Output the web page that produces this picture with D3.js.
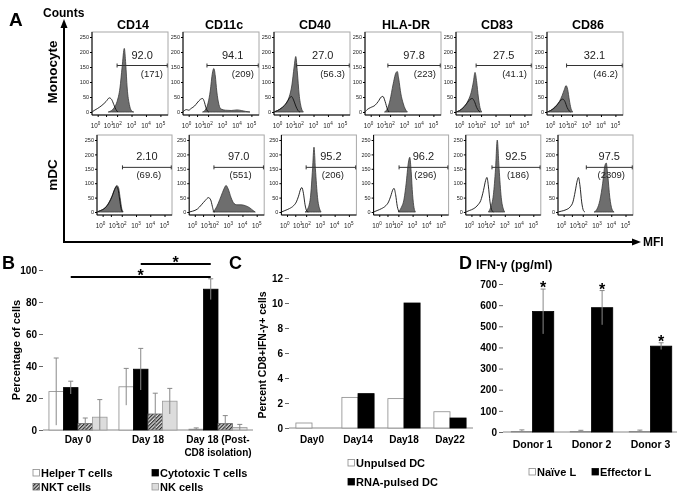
<!DOCTYPE html>
<html>
<head>
<meta charset="utf-8">
<script src="https://cdn.jsdelivr.net/npm/d3@7"></script>
<style>
body { margin: 0; background: #fff; }
svg { will-change: transform; }
text { font-family: "Liberation Sans", Arial, sans-serif; }
</style>
</head>
<body>
<script>
// ---- panel A : flow histograms ----
var markers = ["CD14", "CD11c", "CD40", "HLA-DR", "CD83", "CD86"];
var cellTypes = ["Monocyte", "mDC"];
var gatePercent = [["92.0", "94.1", "27.0", "97.8", "27.5", "32.1"],
                   ["2.10", "97.0", "95.2", "96.2", "92.5", "97.5"]];
var gateMFI = [["(171)", "(209)", "(56.3)", "(223)", "(41.1)", "(46.2)"],
               ["(69.6)", "(551)", "(206)", "(296)", "(186)", "(2309)"]];
var gateStart = [[2.0, 1.9, 1.75, 1.8, 1.55, 1.5],
                 [2.05, 2.0, 2.0, 2.05, 2.1, 2.25]];
var gateLevel = 155;
var logTicks = [0, 1, 2, 3, 4, 5];
var countTicks = [0, 50, 100, 150, 200, 250];

// [log10 intensity, count]
var histFilled = [
  [
    [[1.2,0],[1.5,5],[1.8,18],[2.0,35],[2.2,80],[2.35,150],[2.5,212],[2.6,160],[2.7,80],[2.85,25],[3.0,4],[3.15,0]],
    [[1.5,0],[1.8,10],[2.0,30],[2.15,70],[2.3,130],[2.4,145],[2.5,120],[2.6,70],[2.75,25],[2.9,10],[3.2,6],[3.6,5],[4.0,7],[4.3,5],[4.6,2],[4.9,0]],
    [[-0.8,0],[-0.3,5],[0.3,15],[0.8,30],[1.1,50],[1.35,90],[1.55,150],[1.7,185],[1.85,130],[2.0,60],[2.15,15],[2.3,0]],
    [[1.5,0],[1.8,15],[2.0,40],[2.2,90],[2.4,130],[2.5,135],[2.6,110],[2.75,60],[2.9,30],[3.05,10],[3.2,0]],
    [[-0.8,0],[-0.3,5],[0.3,18],[0.8,40],[1.1,65],[1.3,100],[1.45,132],[1.6,100],[1.75,50],[1.9,15],[2.05,0]],
    [[-0.8,0],[-0.3,5],[0.3,18],[0.8,35],[1.1,55],[1.3,75],[1.45,88],[1.6,75],[1.75,40],[1.9,12],[2.05,0]]
  ],
  [
    [[-0.8,0],[-0.3,5],[0.3,15],[0.8,35],[1.1,55],[1.35,80],[1.55,92],[1.7,85],[1.85,50],[2.0,12],[2.1,0]],
    [[1.9,0],[2.1,10],[2.3,30],[2.5,55],[2.7,80],[2.85,92],[3.0,80],[3.2,50],[3.4,30],[3.6,25],[3.9,25],[4.2,22],[4.5,15],[4.75,5],[4.9,0]],
    [[1.9,0],[2.1,10],[2.3,50],[2.45,150],[2.55,225],[2.65,150],[2.8,50],[2.95,10],[3.05,0]],
    [[2.0,0],[2.2,15],[2.4,45],[2.55,100],[2.7,170],[2.8,190],[2.9,140],[3.0,60],[3.1,15],[3.2,0]],
    [[1.8,0],[2.0,15],[2.2,60],[2.35,150],[2.47,250],[2.6,150],[2.75,50],[2.9,10],[3.0,0]],
    [[2.8,0],[3.0,10],[3.2,40],[3.4,100],[3.55,160],[3.65,170],[3.75,130],[3.9,50],[4.05,10],[4.2,0]]
  ]
];
var histOpen = [
  [
    [[-0.8,0],[-0.5,5],[0,12],[0.5,22],[1,35],[1.3,47],[1.5,42],[1.7,25],[1.9,8],[2.05,0]],
    [[-0.8,0],[-0.6,5],[-0.3,8],[0,6],[0.3,12],[0.7,20],[1.0,30],[1.3,42],[1.5,45],[1.65,35],[1.8,15],[1.95,3],[2.05,0]],
    [[-0.8,0],[-0.3,5],[0.3,15],[0.8,30],[1.1,45],[1.3,52],[1.5,40],[1.7,20],[1.9,5],[2.05,0]],
    [[-0.8,0],[-0.5,8],[0,15],[0.5,22],[0.9,35],[1.2,50],[1.35,52],[1.55,35],[1.75,10],[1.9,0]],
    [[-0.8,0],[-0.3,5],[0.3,18],[0.7,32],[1.0,42],[1.2,45],[1.4,35],[1.6,15],[1.8,3],[1.9,0]],
    [[-0.8,0],[-0.3,5],[0.3,16],[0.7,30],[1.0,40],[1.15,43],[1.35,35],[1.55,15],[1.75,3],[1.85,0]]
  ],
  [
    [[-0.8,0],[-0.3,5],[0.3,14],[0.8,33],[1.1,53],[1.35,78],[1.5,88],[1.65,80],[1.8,45],[1.95,10],[2.05,0]],
    [[-0.8,0],[-0.3,3],[0.3,10],[0.8,25],[1.2,40],[1.5,50],[1.7,42],[1.85,20],[1.95,5],[2.05,0]],
    [[-0.8,0],[-0.3,5],[0.3,12],[0.8,22],[1.1,35],[1.3,55],[1.5,80],[1.6,85],[1.75,65],[1.9,25],[2.05,3],[2.15,0]],
    [[-0.8,0],[-0.3,5],[0.3,12],[0.8,22],[1.1,35],[1.3,55],[1.5,78],[1.6,82],[1.75,60],[1.9,20],[2.05,0]],
    [[-0.8,0],[-0.3,5],[0.3,12],[0.8,25],[1.1,40],[1.35,75],[1.55,110],[1.67,120],[1.8,90],[1.95,35],[2.1,5],[2.2,0]],
    [[-0.8,0],[-0.3,3],[0.3,8],[0.8,18],[1.1,35],[1.3,70],[1.5,110],[1.6,120],[1.75,90],[1.9,35],[2.05,5],[2.15,0]]
  ]
];

// ---- panel B ----
var daysB = ["Day 0", "Day 18", "Day 18 (Post-CD8 isolation)"];
var dayLinesB = [["Day 0"], ["Day 18"], ["Day 18 (Post-", "CD8 isolation)"]];
var subsetsB = ["Helper T cells", "Cytotoxic T cells", "NKT cells", "NK cells"];
var helperB = [24, 27, 0.5],   helperErrB = [21, 11.5, 0.8];
var cytoB   = [26.5, 38, 88],  cytoErrB   = [4, 13, 6.5];
var nktB    = [4, 10, 4],      nktErrB    = [3.5, 13, 5];
var nkB     = [8, 18, 1.5],    nkErrB     = [11, 8, 2];
var ticksB = [0, 20, 40, 60, 80, 100];
var sigB = [["Day 0", "Day 18 (Post-CD8 isolation)", 95.6], ["Day 18", "Day 18 (Post-CD8 isolation)", 103.8]];

// ---- panel C ----
var daysC = ["Day0", "Day14", "Day18", "Day22"];
var groupsC = ["Unpulsed DC", "RNA-pulsed DC"];
var unpulsedC = [0.4, 2.45, 2.35, 1.3];
var pulsedC = [0, 2.75, 10.0, 0.8];
var ticksC = [0, 2, 4, 6, 8, 10, 12];

// ---- panel D ----
var donorsD = ["Donor 1", "Donor 2", "Donor 3"];
var groupsD = ["Naïve L", "Effector L"];
var naiveD = [2, 2, 2],         naiveErrD = [8, 6, 7];
var effectorD = [570, 588, 406], effectorErrD = [106, 81, 16];
var ticksD = [0, 100, 200, 300, 400, 500, 600, 700];

var SERIF = "'Liberation Serif', 'Times New Roman', serif";

var svg = d3.select("body").append("svg")
    .attr("width", 677)
    .attr("height", 496);

svg.append("rect").attr("width", 677).attr("height", 496).attr("fill", "#fff");

var defs = svg.append("defs");
var pat = defs.append("pattern")
    .attr("id", "hatch")
    .attr("patternUnits", "userSpaceOnUse")
    .attr("width", 2.6).attr("height", 2.6)
    .attr("patternTransform", "rotate(45)");
pat.append("rect").attr("width", 2.6).attr("height", 2.6).attr("fill", "#d8d8d8");
pat.append("line").attr("x1", 0.6).attr("y1", 0).attr("x2", 0.6).attr("y2", 2.6)
    .attr("stroke", "#2a2a2a").attr("stroke-width", 1.2);

// ================= A =================
svg.append("text").attr("x", 9).attr("y", 26)
    .attr("font-size", "19px").attr("font-weight", "bold").text("A");
svg.append("text").attr("x", 43).attr("y", 17)
    .attr("font-size", "12px").attr("font-weight", "bold").text("Counts");
svg.append("text").attr("x", 643).attr("y", 246)
    .attr("font-size", "12px").attr("font-weight", "bold").text("MFI");

// L shaped axes with arrows
svg.append("line").attr("x1", 64).attr("y1", 26).attr("x2", 64).attr("y2", 243)
    .attr("stroke", "#000").attr("stroke-width", 2);
svg.append("line").attr("x1", 63).attr("y1", 242).attr("x2", 634).attr("y2", 242)
    .attr("stroke", "#000").attr("stroke-width", 2);
svg.append("path").attr("d", "M64,19 L60.5,28 L67.5,28 Z").attr("fill", "#000");
svg.append("path").attr("d", "M641,242 L632,238.5 L632,245.5 Z").attr("fill", "#000");

var rowTop = [32, 135], rowBottom = [115, 215];
var rowLeft = [92, 97], rowPitch = [91, 92.2], boxW = [76, 75];
var rowLabelY = [72, 175];
var fracs = [0, .075, .185, .33, .52, .71, .90, 1];
var logDomain = [-0.8, 0, 1, 2, 3, 4, 5, 5.5];

cellTypes.forEach(function(cell, r) {
    svg.append("text")
        .attr("transform", "translate(57," + rowLabelY[r] + ")rotate(-90)")
        .attr("text-anchor", "middle")
        .attr("font-size", "13.5px").attr("font-weight", "bold")
        .text(cell);

    var bh = rowBottom[r] - rowTop[r];
    var bw = boxW[r];
    var y = d3.scaleLinear().domain([0, 250]).range([bh - 3, 5]);
    var x = d3.scaleLinear().domain(logDomain).range(fracs.map(function(f) { return f * bw; }));

    markers.forEach(function(m, c) {
        var gx = rowLeft[r] + c * rowPitch[r];
        var g = svg.append("g").attr("transform", "translate(" + gx + "," + rowTop[r] + ")");

        if (r == 0) {
            svg.append("text").attr("x", gx + bw / 2 + 3).attr("y", 29)
                .attr("text-anchor", "middle")
                .attr("font-size", "12.5px").attr("font-weight", "bold")
                .text(m);
        }

        var clipId = "clip" + r + "_" + c;
        defs.append("clipPath").attr("id", clipId)
            .append("rect").attr("width", bw).attr("height", bh - 1);

        var area = d3.area()
            .x(function(d) { return x(d[0]); })
            .y0(y(0))
            .y1(function(d) { return y(d[1]); })
            .curve(d3.curveMonotoneX);
        var line = d3.line()
            .x(function(d) { return x(d[0]); })
            .y(function(d) { return y(d[1]); })
            .curve(d3.curveMonotoneX);

        var plot = g.append("g").attr("clip-path", "url(#" + clipId + ")");
        plot.append("path").datum(histFilled[r][c])
            .attr("d", area)
            .attr("fill", "#6e6e6e")
            .attr("stroke", "#3a3a3a").attr("stroke-width", 0.8);
        plot.append("path").datum(histOpen[r][c])
            .attr("d", line)
            .attr("fill", "none")
            .attr("stroke", "#111").attr("stroke-width", 0.9);

        // frame
        g.append("rect").attr("width", bw).attr("height", bh)
            .attr("fill", "none").attr("stroke", "#a8a8a8").attr("stroke-width", 1);
        g.append("line").attr("x1", 0).attr("y1", 0).attr("x2", 0).attr("y2", bh)
            .attr("stroke", "#000").attr("stroke-width", 1);
        g.append("line").attr("x1", 0).attr("y1", bh).attr("x2", bw).attr("y2", bh)
            .attr("stroke", "#000").attr("stroke-width", 1);

        var yAxis = d3.axisLeft(y).tickValues(countTicks).tickSize(2).tickPadding(1);
        var ya = g.append("g").call(yAxis);
        ya.select(".domain").remove();
        ya.selectAll("text").attr("font-family", SERIF).attr("font-size", "5.5px").attr("fill", "#222");

        var xAxis = d3.axisBottom(x).tickValues(logTicks).tickSize(2).tickFormat("");
        var xa = g.append("g").attr("transform", "translate(0," + bh + ")").call(xAxis);
        xa.select(".domain").remove();

        // 10^0 and 10^1 sit tight together, so push them apart from their ticks
        logTicks.forEach(function(t) {
            var anchor = t == 0 ? "end" : (t == 1 ? "start" : "middle");
            var shift = t == 0 ? 2.6 : (t == 1 ? -2.2 : 0);
            var tx = g.append("text")
                .attr("x", x(t) + shift).attr("y", bh + 13)
                .attr("text-anchor", anchor)
                .attr("font-family", SERIF).attr("font-size", "6.3px").attr("fill", "#222");
            tx.append("tspan").text("10");
            tx.append("tspan").attr("dy", -3).attr("font-size", "4.6px").text(t);
        });

        // gate
        var gy = y(gateLevel);
        var g0 = x(gateStart[r][c]), g1 = x(5.45);
        g.append("line").attr("x1", g0).attr("y1", gy).attr("x2", g1).attr("y2", gy)
            .attr("stroke", "#333").attr("stroke-width", 1);
        [g0, g1].forEach(function(px) {
            g.append("line").attr("x1", px).attr("y1", gy - 2).attr("x2", px).attr("y2", gy + 2)
                .attr("stroke", "#333").attr("stroke-width", 1);
        });

        g.append("text").attr("x", (g0 + g1) / 2).attr("y", gy - 7)
            .attr("text-anchor", "middle")
            .attr("font-family", SERIF).attr("font-size", "11px").attr("fill", "#222")
            .text(gatePercent[r][c]);
        if (r == 0) {
            g.append("text").attr("x", bw - 5).attr("y", gy + 11)
                .attr("text-anchor", "end")
                .attr("font-size", "9.5px").attr("fill", "#222")
                .text(gateMFI[r][c]);
        } else {
            g.append("text").attr("x", (g0 + g1) / 2 + 2).attr("y", gy + 11)
                .attr("text-anchor", "middle")
                .attr("font-size", "9.5px").attr("fill", "#222")
                .text(gateMFI[r][c]);
        }
    });
});

// helper for grouped bars
function panelLetter(t, x) {
    svg.append("text").attr("x", x).attr("y", 269)
        .attr("font-size", "18px").attr("font-weight", "bold").text(t);
}
function yTicks(scale, xpos, ticks) {
    var ax = svg.append("g").attr("transform", "translate(" + xpos + ",0)")
        .call(d3.axisLeft(scale).tickValues(ticks).tickSize(4).tickPadding(2));
    ax.select(".domain").remove();
    ax.selectAll("line").attr("stroke", "#666");
    ax.selectAll("text").attr("font-size", "10px").attr("font-weight", "bold")
        .attr("font-family", "'Liberation Sans', Arial, sans-serif");
}
function errBar(cx, yTop, yBot) {
    svg.append("line").attr("x1", cx).attr("x2", cx).attr("y1", yTop).attr("y2", yBot)
        .attr("stroke", "#888").attr("stroke-width", 1);
    svg.append("line").attr("x1", cx - 2.5).attr("x2", cx + 2.5).attr("y1", yTop).attr("y2", yTop)
        .attr("stroke", "#888").attr("stroke-width", 1);
}
function legendItem(x, y, fill, stroke, label) {
    svg.append("rect").attr("x", x).attr("y", y - 7.5).attr("width", 6.5).attr("height", 6.5)
        .attr("fill", fill).attr("stroke", stroke).attr("stroke-width", 0.8);
    svg.append("text").attr("x", x + 8).attr("y", y)
        .attr("font-size", "11px").attr("font-weight", "bold").text(label);
}

// ================= B =================
panelLetter("B", 2);
var xB = d3.scaleBand().domain(daysB).range([43, 253]).paddingInner(0.17).paddingOuter(0.085);
var xB1 = d3.scaleBand().domain(subsetsB).range([0, xB.bandwidth()]);
var yB = d3.scaleLinear().domain([0, 100]).range([430, 270]);
var valsB = [helperB, cytoB, nktB, nkB];
var errsB = [helperErrB, cytoErrB, nktErrB, nkErrB];
var fillB = ["#fff", "#000", "url(#hatch)", "#dcdcdc"];
var strokeB = ["#8a8a8a", "#000", "#666", "#9a9a9a"];

yTicks(yB, 43, ticksB);
svg.append("line").attr("x1", 43).attr("x2", 253).attr("y1", yB(0)).attr("y2", yB(0))
    .attr("stroke", "#888");

subsetsB.forEach(function(s, k) {
    daysB.forEach(function(d, i) {
        var bx = xB(d) + xB1(s);
        var v = valsB[k][i];
        svg.append("rect").attr("x", bx).attr("y", yB(v))
            .attr("width", xB1.bandwidth()).attr("height", yB(0) - yB(v))
            .attr("fill", fillB[k]).attr("stroke", strokeB[k]).attr("stroke-width", 0.8);
        errBar(bx + xB1.bandwidth() / 2, yB(v + errsB[k][i]), yB(Math.max(0, v - errsB[k][i])));
    });
});

sigB.forEach(function(s) {
    var x0 = xB(s[0]) + xB1("Cytotoxic T cells") + xB1.bandwidth() / 2;
    var x1 = xB(s[1]) + xB1("Cytotoxic T cells") + xB1.bandwidth() / 2;
    svg.append("line").attr("x1", x0).attr("x2", x1).attr("y1", yB(s[2])).attr("y2", yB(s[2]))
        .attr("stroke", "#000").attr("stroke-width", 2);
    svg.append("text").attr("x", (x0 + x1) / 2).attr("y", yB(s[2]) + 4)
        .attr("text-anchor", "middle").attr("font-size", "16px").attr("font-weight", "bold")
        .text("*");
});

daysB.forEach(function(d, i) {
    var t = svg.append("text").attr("x", xB(d) + xB.bandwidth() / 2).attr("y", 443)
        .attr("text-anchor", "middle").attr("font-size", "10px").attr("font-weight", "bold");
    dayLinesB[i].forEach(function(l, j) {
        t.append("tspan").attr("x", xB(d) + xB.bandwidth() / 2).attr("dy", j == 0 ? 0 : 12.5).text(l);
    });
});

svg.append("text")
    .attr("transform", "translate(20,350)rotate(-90)")
    .attr("text-anchor", "middle").attr("font-size", "11px").attr("font-weight", "bold")
    .text("Percentage of cells");

legendItem(33, 477, fillB[0], strokeB[0], subsetsB[0]);
legendItem(152, 477, fillB[1], strokeB[1], subsetsB[1]);
legendItem(33, 491, fillB[2], strokeB[2], subsetsB[2]);
legendItem(152, 491, fillB[3], strokeB[3], subsetsB[3]);

// ================= C =================
panelLetter("C", 229);
var xC = d3.scaleBand().domain(daysC).range([289, 473]).paddingInner(0.3).paddingOuter(0.15);
var xC1 = d3.scaleBand().domain(groupsC).range([0, xC.bandwidth()]);
var yC = d3.scaleLinear().domain([0, 12]).range([428, 278]);
yTicks(yC, 289, ticksC);
svg.append("line").attr("x1", 289).attr("x2", 473).attr("y1", yC(0)).attr("y2", yC(0))
    .attr("stroke", "#888");
var valsC = [unpulsedC, pulsedC];
var fillC = ["#fff", "#000"], strokeC = ["#8a8a8a", "#000"];
groupsC.forEach(function(gname, k) {
    daysC.forEach(function(d, i) {
        var v = valsC[k][i];
        if (v <= 0) return;
        svg.append("rect").attr("x", xC(d) + xC1(gname)).attr("y", yC(v))
            .attr("width", xC1.bandwidth()).attr("height", yC(0) - yC(v))
            .attr("fill", fillC[k]).attr("stroke", strokeC[k]).attr("stroke-width", 0.8);
    });
});
daysC.forEach(function(d) {
    svg.append("text").attr("x", xC(d) + xC.bandwidth() / 2).attr("y", 443)
        .attr("text-anchor", "middle").attr("font-size", "10px").attr("font-weight", "bold").text(d);
});
svg.append("text")
    .attr("transform", "translate(266,355)rotate(-90)")
    .attr("text-anchor", "middle").attr("font-size", "10.5px").attr("font-weight", "bold")
    .text("Percent CD8+IFN-γ+ cells");
legendItem(348, 467, fillC[0], strokeC[0], groupsC[0]);
legendItem(348, 486, fillC[1], strokeC[1], groupsC[1]);

// ================= D =================
panelLetter("D", 459);
svg.append("text").attr("x", 476).attr("y", 269)
    .attr("font-size", "12.5px").attr("font-weight", "bold").text("IFN-γ (pg/ml)");
var xD = d3.scaleBand().domain(donorsD).range([503, 680]).paddingInner(0.28).paddingOuter(0.14);
var xD1 = d3.scaleBand().domain(groupsD).range([0, xD.bandwidth()]);
var yD = d3.scaleLinear().domain([0, 700]).range([432, 284]);
yTicks(yD, 503, ticksD);
svg.append("line").attr("x1", 503).attr("x2", 680).attr("y1", yD(0)).attr("y2", yD(0))
    .attr("stroke", "#888");
var valsD = [naiveD, effectorD], errsD = [naiveErrD, effectorErrD];
var fillD = ["#fff", "#000"], strokeD = ["#8a8a8a", "#000"];
groupsD.forEach(function(gname, k) {
    donorsD.forEach(function(d, i) {
        var v = valsD[k][i];
        var bx = xD(d) + xD1(gname);
        svg.append("rect").attr("x", bx).attr("y", yD(v))
            .attr("width", xD1.bandwidth()).attr("height", yD(0) - yD(v))
            .attr("fill", fillD[k]).attr("stroke", strokeD[k]).attr("stroke-width", 0.8);
        var cx = bx + xD1.bandwidth() / 2;
        errBar(cx, yD(v + errsD[k][i]), yD(Math.max(0, v - errsD[k][i])));
        if (k == 1) {
            svg.append("text").attr("x", cx).attr("y", yD(v + errsD[k][i]) + 4)
                .attr("text-anchor", "middle").attr("font-size", "16px").attr("font-weight", "bold")
                .text("*");
        }
    });
});
donorsD.forEach(function(d) {
    svg.append("text").attr("x", xD(d) + xD.bandwidth() / 2).attr("y", 448)
        .attr("text-anchor", "middle").attr("font-size", "10.5px").attr("font-weight", "bold").text(d);
});
legendItem(529, 476, fillD[0], strokeD[0], groupsD[0]);
legendItem(592, 476, fillD[1], strokeD[1], groupsD[1]);
</script>
</body>
</html>
